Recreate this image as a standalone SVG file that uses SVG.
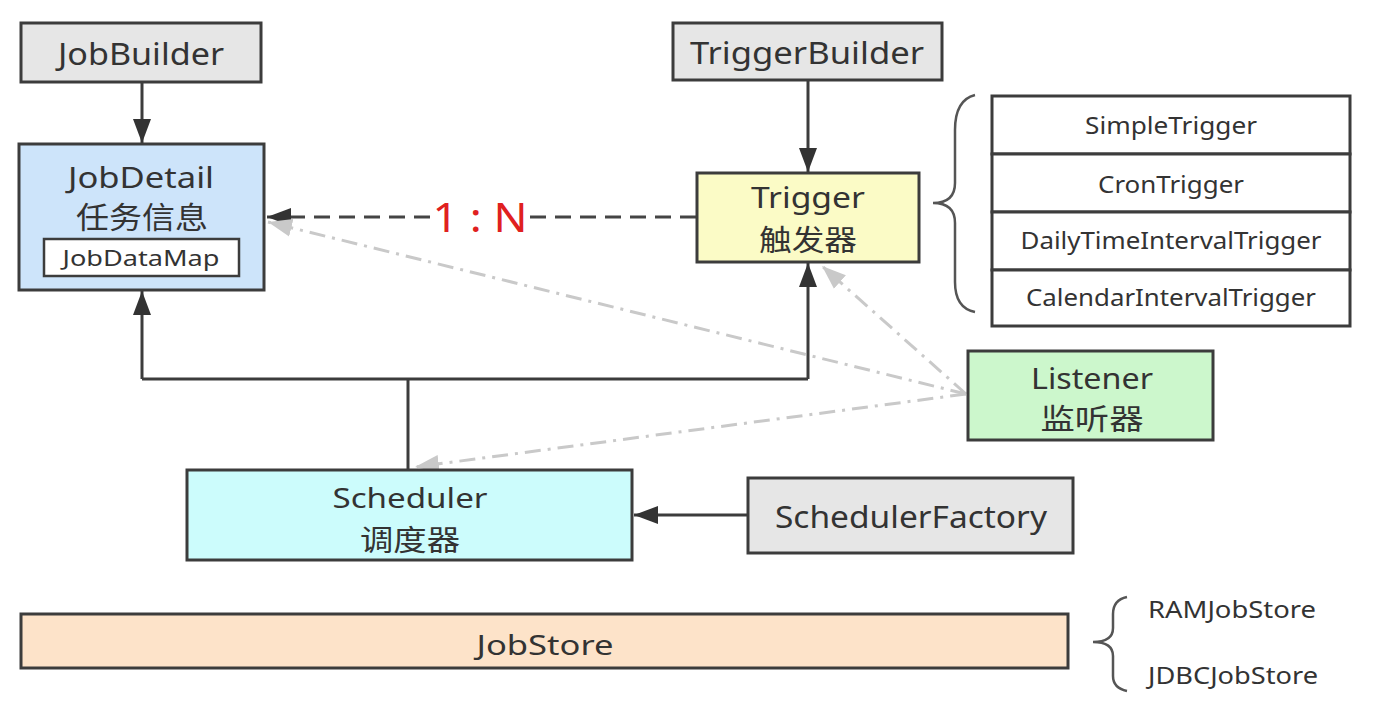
<svg xmlns="http://www.w3.org/2000/svg" width="1400" height="727" viewBox="0 0 1400 727">
<defs>
<style>
.box{stroke:#3c3c3c;stroke-width:3}
.t{font-family:"Noto Sans","Open Sans","Noto Sans CJK SC",sans-serif;fill:#333;text-anchor:middle}
.c{font-family:"Noto Sans CJK SC","Noto Sans",sans-serif;fill:#333;text-anchor:middle}
.solid{stroke:#3c3c3c;stroke-width:3;fill:none}
.dash{stroke:#444;stroke-width:3;fill:none;stroke-dasharray:16 9}
.dd{stroke:#c9c9c9;stroke-width:3;fill:none;stroke-dasharray:16 7 3 7}
.brace{stroke:#555;stroke-width:2.5;fill:none}
</style>
<marker id="ab" markerUnits="userSpaceOnUse" markerWidth="26" markerHeight="20" refX="24" refY="10" orient="auto">
<path d="M0,1 L24,10 L0,19 Z" fill="#333"/>
</marker>
<marker id="ag" markerUnits="userSpaceOnUse" markerWidth="26" markerHeight="20" refX="24" refY="10" orient="auto">
<path d="M0,1 L24,10 L0,19 Z" fill="#c9c9c9"/>
</marker>
</defs>
<rect width="1400" height="727" fill="#fff"/>

<g id="connectors">
<line class="solid" x1="142" y1="83" x2="142" y2="143" marker-end="url(#ab)"/>
<line class="solid" x1="808" y1="81" x2="808" y2="172" marker-end="url(#ab)"/>
<path class="solid" d="M408,470 L408,379"/>
<path class="solid" d="M142,379 L808,379"/>
<line class="solid" x1="142" y1="379" x2="142" y2="291" marker-end="url(#ab)"/>
<line class="solid" x1="808" y1="379" x2="808" y2="263" marker-end="url(#ab)"/>
<line class="solid" x1="748" y1="515" x2="634" y2="515" marker-end="url(#ab)"/>
<line class="dash" x1="696" y1="217" x2="530" y2="217"/>
<line class="dash" x1="430" y1="217" x2="267" y2="217" marker-end="url(#ab)"/>
<text x="480" y="232" font-family="Noto Sans, sans-serif" font-size="40" fill="#e02020" text-anchor="middle" textLength="95" lengthAdjust="spacingAndGlyphs">1 : N</text>
<line class="dd" x1="966" y1="394" x2="268" y2="222" marker-end="url(#ag)"/>
<line class="dd" x1="966" y1="394" x2="822" y2="266" marker-end="url(#ag)"/>
<line class="dd" x1="966" y1="394" x2="415" y2="467" marker-end="url(#ag)"/>
</g>

<g id="JobBuilder">
<rect class="box" x="21" y="23" width="240" height="59" fill="#e6e6e6"/>
<text class="t" x="141" y="65" font-size="31" textLength="166" lengthAdjust="spacingAndGlyphs">JobBuilder</text>
</g>

<g id="JobDetail">
<rect class="box" x="19" y="144" width="245" height="146" fill="#cde4fa"/>
<text class="t" x="141" y="188" font-size="29" textLength="146" lengthAdjust="spacingAndGlyphs">JobDetail</text>
<text class="c" x="142" y="228" font-size="30" textLength="132" lengthAdjust="spacingAndGlyphs">任务信息</text>
<rect x="44" y="239" width="195" height="37" fill="#fff" stroke="#3c3c3c" stroke-width="2.5"/>
<text class="t" x="141" y="266" font-size="22" textLength="157" lengthAdjust="spacingAndGlyphs">JobDataMap</text>
</g>

<g id="TriggerBuilder">
<rect class="box" x="673" y="23" width="269" height="57" fill="#e6e6e6"/>
<text class="t" x="807" y="64" font-size="31" textLength="234" lengthAdjust="spacingAndGlyphs">TriggerBuilder</text>
</g>

<g id="Trigger">
<rect class="box" x="697" y="173" width="222" height="89" fill="#fbfbc6"/>
<text class="t" x="808" y="208" font-size="29" textLength="114" lengthAdjust="spacingAndGlyphs">Trigger</text>
<text class="c" x="808" y="251" font-size="29" textLength="98" lengthAdjust="spacingAndGlyphs">触发器</text>
</g>

<g id="TriggerTypes">
<path class="brace" d="M975,95 Q955,100 955,130 L955,183 Q955,203 933,203 Q955,203 955,223 L955,282 Q955,308 975,312"/>
<rect class="box" x="992" y="96" width="358" height="58" fill="#fff"/>
<rect class="box" x="992" y="154" width="358" height="58" fill="#fff"/>
<rect class="box" x="992" y="212" width="358" height="58" fill="#fff"/>
<rect class="box" x="992" y="270" width="358" height="56" fill="#fff"/>
<text class="t" x="1171" y="134" font-size="24" textLength="172" lengthAdjust="spacingAndGlyphs">SimpleTrigger</text>
<text class="t" x="1171" y="193" font-size="24" textLength="146" lengthAdjust="spacingAndGlyphs">CronTrigger</text>
<text class="t" x="1171" y="249" font-size="24" textLength="301" lengthAdjust="spacingAndGlyphs">DailyTimeIntervalTrigger</text>
<text class="t" x="1171" y="306" font-size="24" textLength="290" lengthAdjust="spacingAndGlyphs">CalendarIntervalTrigger</text>
</g>

<g id="Listener">
<rect class="box" x="968" y="351" width="245" height="89" fill="#ccf7cc"/>
<text class="t" x="1092" y="389" font-size="29" textLength="122" lengthAdjust="spacingAndGlyphs">Listener</text>
<text class="c" x="1092" y="430" font-size="29" textLength="103" lengthAdjust="spacingAndGlyphs">监听器</text>
</g>

<g id="Scheduler">
<rect class="box" x="187" y="470" width="445" height="90" fill="#ccfcfc"/>
<text class="t" x="410" y="508" font-size="28" textLength="155" lengthAdjust="spacingAndGlyphs">Scheduler</text>
<text class="c" x="410" y="551" font-size="29" textLength="100" lengthAdjust="spacingAndGlyphs">调度器</text>
</g>

<g id="SchedulerFactory">
<rect class="box" x="748" y="478" width="325" height="75" fill="#e6e6e6"/>
<text class="t" x="911" y="528" font-size="30" textLength="272" lengthAdjust="spacingAndGlyphs">SchedulerFactory</text>
</g>

<g id="JobStore">
<rect class="box" x="21" y="614" width="1047" height="54" fill="#fde3c9"/>
<text class="t" x="545" y="655" font-size="28" textLength="137" lengthAdjust="spacingAndGlyphs">JobStore</text>
</g>

<g id="JobStoreTypes">
<path class="brace" d="M1127,597 Q1113,600 1113,614 L1113,628 Q1113,642 1093,642 Q1113,642 1113,656 L1113,676 Q1113,688 1127,691"/>
<text x="1148" y="618" font-family="Noto Sans, sans-serif" font-size="24" fill="#333" textLength="168" lengthAdjust="spacingAndGlyphs">RAMJobStore</text>
<text x="1148" y="684" font-family="Noto Sans, sans-serif" font-size="24" fill="#333" textLength="170" lengthAdjust="spacingAndGlyphs">JDBCJobStore</text>
</g>
</svg>
